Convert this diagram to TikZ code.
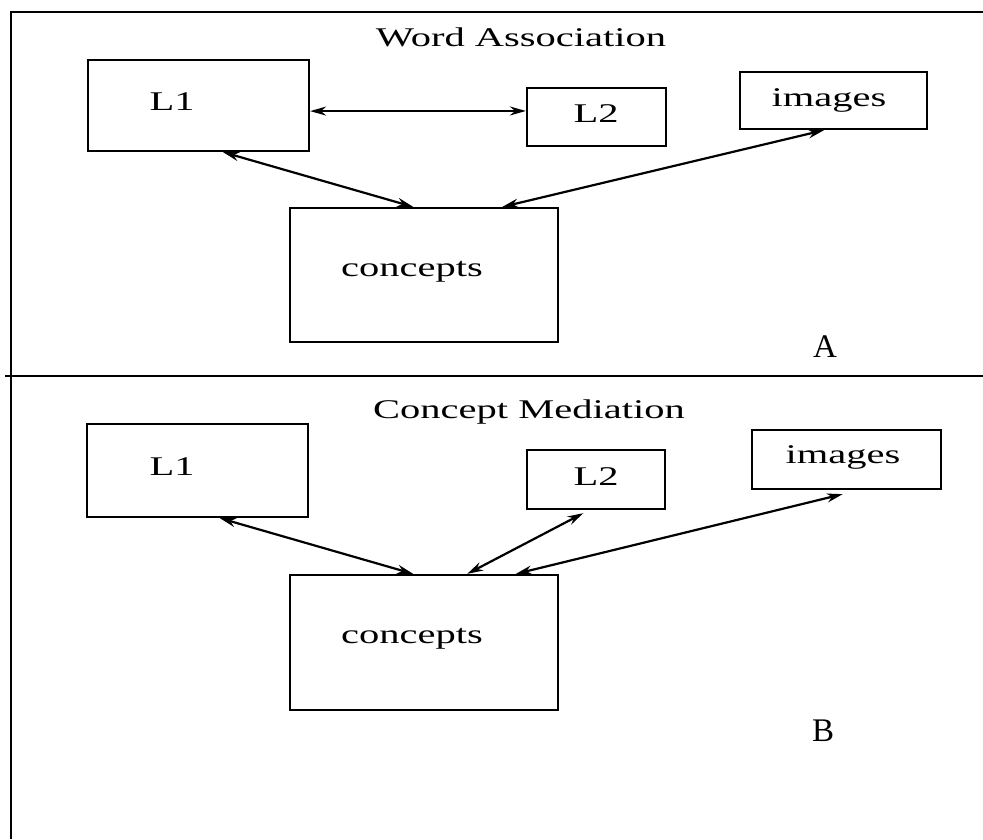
\documentclass[tikz,border=0pt]{standalone}
\usepackage{fontspec}
\setmainfont{Liberation Serif}
\newfontfamily\scanfont[FakeStretch=1.5]{Liberation Serif}
\usetikzlibrary{arrows.meta,calc}
\begin{document}
\begin{tikzpicture}[x=1pt,y=-1pt,
  box/.style={draw,line width=2.3pt,inner sep=0pt,minimum width=#1},
  lbl/.style={anchor=base,inner sep=0pt,font=\scanfont\fontsize{27}{29}\selectfont},
  tag/.style={anchor=base,inner sep=0pt,font=\fontsize{33}{35}\selectfont},
  link/.style={line width=2.2pt,{Stealth[length=16pt,width=9pt]}-{Stealth[length=16pt,width=9pt]}},
  frame/.style={line width=2pt}]
\useasboundingbox (0,0) rectangle (983,839);
% frame
\coordinate (ftl) at (11,12);
\coordinate (ftr) at (983,12);
\coordinate (fbl) at (11,839);
\coordinate (dl) at (5,376);
\coordinate (dr) at (983,376);
\draw[frame] (ftr) -- (ftl) -- (fbl);
\draw[frame] (dl) -- (dr);

% ---------- Panel A ----------
\node[lbl] (tA) at (521,46) {Word Association};
\node[box=221pt,minimum height=91pt] (L1a) at (198.5,105.5) {};
\node[box=139pt,minimum height=58pt] (L2a) at (596.5,117) {};
\node[box=187pt,minimum height=57pt] (IMa) at (833.5,100.5) {};
\node[box=268pt,minimum height=134pt] (Ca) at (424,275) {};
\node[lbl] (L1at) at (172,110) {L1};
\node[lbl] (L2at) at (596,122) {L2};
\node[lbl] (IMat) at (829,106) {images};
\node[lbl] (Cat) at (412,276) {concepts};
\node[tag] (A) at (825,357) {A};
\draw[link,line width=1.8pt] ($(L1a.north east)!0.56!(L1a.south east)$) -- ($(L2a.north west)!0.4!(L2a.south west)$);
\draw[link] ($(L1a.south west)!0.61!(L1a.south east)$) -- ($(Ca.north west)!0.46!(Ca.north east)$);
\draw[link] ($(IMa.south west)!0.45!(IMa.south east)$) -- ($(Ca.north west)!0.79!(Ca.north east)$);

% ---------- Panel B ----------
\node[lbl] (tB) at (529,418) {Concept Mediation};
\node[box=221pt,minimum height=93pt] (L1b) at (197.5,470.5) {};
\node[box=138pt,minimum height=59pt] (L2b) at (596,479.5) {};
\node[box=189pt,minimum height=59pt] (IMb) at (846.5,459.5) {};
\node[box=268pt,minimum height=135pt] (Cb) at (424,642.5) {};
\node[lbl] (L1bt) at (172,475) {L1};
\node[lbl] (L2bt) at (596,485) {L2};
\node[lbl] (IMbt) at (843,463) {images};
\node[lbl] (Cbt) at (412,643) {concepts};
\node[tag] (B) at (823,741) {B};
\draw[link] ($(L1b.south west)!0.6!(L1b.south east)$) -- ($(Cb.north west)!0.46!(Cb.north east)$);
\draw[link] ($(L2b.south west)!0.41!(L2b.south east)+(0,3)$) -- ($(Cb.north west)!0.66!(Cb.north east)$);
\draw[link] ($(IMb.south west)!0.48!(IMb.south east)+(0,4)$) -- ($(Cb.north west)!0.84!(Cb.north east)$);
\end{tikzpicture}
\end{document}
